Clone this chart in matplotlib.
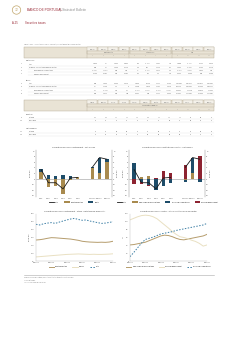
import matplotlib
matplotlib.use('Agg')
import matplotlib.pyplot as plt
from matplotlib.patches import Rectangle, Circle
import numpy as np
import pandas as pd

W, H = 250, 353

GOLD = '#a88a4e'
BLUE = '#1d4c69'
RED = '#8d2331'
LINE = '#1a1a1a'
LBLUE = '#3f80a6'
TAN = '#b59c6c'
CREAM = '#e9e0c2'
TXT = '#555555'
BAND = '#e9e3d5'
EDGE = '#b3a994'
HEADRED = '#9a2a36'

# ---- net issues (top charts), EUR bn ----
years = ['2011', '2012', '2013', '2014', '2015', '2016']
months = ['Jan-17', 'Feb-17', 'Mar-17']
debt_net = [2.7, -2.9, -2.6, -5.3, -0.5, 0.8, 3.9, 2.3, 6.2]
equity_net = [0.9, 1.5, 1.0, 1.5, 1.0, 0.1, 0.4, 5.4, 0.9]
total_net = [3.4, -1.3, -1.3, -3.5, 0.4, 0.6, 4.2, 7.7, 7.1]
nfc_net = [0.0, 0.6, 1.0, -0.1, 0.0, 0.0, -0.4, 2.0, 0.0]
fc_net = [5.6, -1.2, -2.0, -3.9, -2.6, -1.5, -0.6, 5.7, -1.0]
gg_net = [-1.8, -0.7, -0.6, 0.5, 2.8, 2.3, 5.2, 0.0, 8.1]
net_ticks = [-6, -4, -2, 0, 2, 4, 6, 8, 10]

# ---- stocks (bottom charts), quarterly Mar-12 .. Mar-17 ----
stock_total = [284, 280, 288, 292, 295, 290, 298, 305, 312, 318, 322, 315,
               310, 312, 305, 300, 295, 290, 292, 296, 301]
stock_debt = [184, 186, 190, 195, 199, 198, 196, 194, 192, 190, 186, 182,
              176, 173, 171, 170, 169, 170, 169, 171, 176]
stock_shares = [76, 78, 80, 82, 84, 86, 88, 90, 92, 93, 94, 95,
                94, 93, 92, 93, 92, 92, 93, 94, 96]
share_nfc = [41, 42, 44, 46, 48, 52, 56, 60, 64, 66, 65, 62,
             58, 55, 54, 56, 58, 60, 62, 64, 68]
share_gg = [105, 109, 113, 116, 117, 116, 113, 108, 100, 92, 84, 75,
            68, 62, 60, 57, 53, 50, 45, 38, 41]
share_fc = [11, 22, 34, 46, 55, 58, 61, 65, 69, 71, 73, 75,
            78, 80, 82, 84, 86, 88, 90, 92, 96]
stock_dates = pd.date_range('2012-03-31', '2017-03-31', freq='QE')
stock_labels = ['Mar-12', 'Mar-13', 'Mar-14', 'Mar-15', 'Mar-16', 'Mar-17']

# ---- table A.25.1 ----
t1_dates = ['Dec 15', 'Dec 16', 'Feb 17', 'Mar 17'] * 3
t1_groups = ['Debt securities', 'Listed shares', 'Total']
t1_rows = ['Total', 'of which: resident non-financial sector',
           'Non-financial corporations', 'General government']
t1_net = [
    ['1 805', '-63', '1 934', '3 864', '83', '-1 133', '1 207', '78', '1 888', '-1 196', '3 141', '3 942'],
    ['952', '-41', '1 020', '2 115', '52', '-987', '1 114', '61', '1 004', '-1 028', '2 134', '2 176'],
    ['-1 208', '-3 222', '563', '-366', '-12', '-1 402', '1 271', '43', '-1 220', '-4 624', '1 834', '-323'],
    ['2 160', '3 181', '457', '2 481', '64', '415', '-157', '18', '2 224', '3 596', '300', '2 499'],
]
t1_stock = [
    ['306', '7 905', '5 002', '4 012', '1 866', '8 140', '1 117', '5 102', '102 006', '285 011', '134 812', '286 022'],
    ['-76', '1 736', '746', '9', '1 208', '1 846', '1 101', '4 019', '80 112', '206 024', '91 332', '208 140'],
    ['-95', '-1 064', '-205', '-46', '-1 210', '-3 106', '-1 203', '-4 108', '23 001', '17 118', '23 810', '17 504'],
    ['205', '1 011', '951', '188', '2 201', '981', '1 117', '2 005', '57 061', '111 026', '57 902', '111 380'],
]
t2_dates = ['Apr 16', 'May 16', 'Jun 16', 'Jul 16', 'Aug 16', 'Sep 16',
            'Oct 16', 'Nov 16', 'Dec 16', 'Jan 17', 'Feb 17', 'Mar 17']
t2_sections = ['Debt (1)', 'Listed shares']
t2_rows = ['Portugal', 'Euro area']
t2_vals = [
    ['-0.6', '-1.0', '-0.7', '-0.7', '-0.4', '-0.8', '-0.7', '-0.4', '-0.1', '0.8', '1.0', '2.0'],
    ['0.6', '0.6', '0.6', '0.6', '0.5', '0.5', '0.6', '0.4', '0.3', '0.7', '0.8', '0.9'],
    ['0.3', '0.6', '0.4', '0.1', '0.2', '0.5', '0.1', '0.6', '0.6', '0.8', '0.7', '0.8'],
    ['0.9', '0.8', '0.8', '0.6', '0.6', '0.7', '0.7', '0.7', '0.7', '0.6', '0.5', '0.6'],
]

plt.rcParams['font.family'] = ['Liberation Sans', 'DejaVu Sans']

fig = plt.figure(figsize=(W / 100, H / 100), dpi=100)
fig.patch.set_facecolor('white')

bg = fig.add_axes([0, 0, 1, 1])
bg.set_xlim(0, W)
bg.set_ylim(H, 0)
bg.axis('off')


def txt(x, y, s, fs=1.5, color=TXT, ha='left', **kw):
    bg.text(x, y, s, fontsize=fs, color=color, ha=ha, va='center', **kw)


# page header
bg.add_patch(Circle((16.5, 10), 4.2, fill=False, ec='#c2a66b', lw=0.5))
txt(16.5, 10, '72', fs=2.4, color='#b89a5c', ha='center')
txt(27, 10, 'BANCO DE PORTUGAL', fs=2.3, color=HEADRED)
txt(60.5, 10, '|  Statistical Bulletin', fs=2.1, color='#8a8a8a')
txt(12.5, 23.2, 'A.25', fs=2.0, color=HEADRED)
txt(25, 23.2, 'Securities issues', fs=2.0, color=HEADRED)

X0, X1, XC = 24, 214, 87
CW = (X1 - XC) / 12


def header(y0, dates, groups):
    bg.add_patch(Rectangle((X0, y0), X1 - X0, 11, fc=BAND, ec=EDGE, lw=0.3))
    for i, d in enumerate(dates):
        cx = XC + i * CW
        bg.add_patch(Rectangle((cx + 0.3, y0 + 0.4), CW - 0.6, 3.4, fc='#f4f1ea', ec=EDGE, lw=0.25))
        txt(cx + CW / 2, y0 + 2.1, d, fs=1.0, ha='center')
        txt(cx + CW / 2, y0 + 9.0, str(i + 1), fs=0.9, color='#9a9a9a', ha='center')
    span = 12 // len(groups)
    for g, name in enumerate(groups):
        gx = XC + g * span * CW
        bg.add_patch(Rectangle((gx + 0.3, y0 + 4.2), span * CW - 0.6, 3.0, fc=BAND, ec=EDGE, lw=0.25))
        txt(gx + span * CW / 2, y0 + 5.7, name, fs=1.0, ha='center')
        bg.plot([gx, gx], [y0 + 4.2, y0 + 11], color=EDGE, lw=0.25)


def data_row(y, num, label, vals, indent=0):
    txt(22, y, str(num), fs=1.1, ha='right')
    txt(29 + indent, y, label, fs=1.2)
    bg.plot([28, X1], [y + 1.5, y + 1.5], color='#d6d6d6', lw=0.2)
    for i, v in enumerate(vals):
        txt(XC + (i + 1) * CW - 1, y, v, fs=1.1, ha='right')


# table 1
txt(24, 44, 'Table A.25.1 - Securities issued by residents, by instrument and issuer sector', fs=1.2, color='#777777')
header(47, t1_dates, t1_groups)
txt(26, 60.8, 'Net issues', fs=1.3, color='#333333')
for k, (lab, vals) in enumerate(zip(t1_rows, t1_net)):
    data_row(64 + k * 3.3, k + 1, lab, vals, indent=0 if k < 2 else 5)
txt(26, 80, 'Stocks', fs=1.3, color='#333333')
for k, (lab, vals) in enumerate(zip(t1_rows, t1_stock)):
    data_row(83.5 + k * 3.3, k + 5, lab, vals, indent=0 if k < 2 else 5)

# table 2
header(100, t2_dates, ['Annual rate of change (%)'])
for s, sec in enumerate(t2_sections):
    ys = 114 + s * 14
    txt(26, ys, sec, fs=1.3, color='#333333')
    for k, lab in enumerate(t2_rows):
        data_row(ys + 3.3 + k * 3.5, 9 + s * 2 + k, lab, t2_vals[s * 2 + k])


def add_axes_px(x0, y0, x1, y1):
    return fig.add_axes([x0 / W, 1 - y1 / H, (x1 - x0) / W, (y1 - y0) / H])


def stack_bars(ax, x, series, colors, labels, width=0.48):
    pos = np.zeros(len(x))
    neg = np.zeros(len(x))
    for vals, c, lab in zip(series, colors, labels):
        v = np.array(vals, dtype=float)
        ax.bar(x, v, width, bottom=np.where(v >= 0, pos, neg), color=c, label=lab, lw=0)
        pos += np.clip(v, 0, None)
        neg += np.clip(v, None, 0)


def style(ax, ylabel):
    for side in ['top', 'bottom']:
        ax.spines[side].set_visible(False)
    for side in ['left', 'right']:
        ax.spines[side].set_color('#bbbbbb')
        ax.spines[side].set_linewidth(0.3)
    ax.tick_params(labelsize=1.5, length=0, pad=1, colors=TXT)
    ax.set_ylabel(ylabel, fontsize=1.5, color=TXT, labelpad=1)


x_cat = np.array(list(range(len(years))) + [len(years) + 1 + i for i in range(len(months))])
cats = years + months

for x0, title, series, colors, labels in [
        (36, 'Securities issues by instrument - net issues',
         [debt_net, equity_net], [GOLD, BLUE], ['Debt securities', 'Equity']),
        (129, 'Securities issues by institutional sector - net issues',
         [nfc_net, fc_net, gg_net], [GOLD, BLUE, RED],
         ['Non-financial corporations', 'Financial corporations', 'General government'])]:
    ax = add_axes_px(x0, 150, x0 + 76, 197)
    stack_bars(ax, x_cat, series, colors, labels)
    ax.plot(x_cat[:6], total_net[:6], color=LINE, lw=0.6, label='Total')
    ax.plot(x_cat[6:], total_net[6:], color=LINE, lw=0.6)
    ax.axhline(0, color='#9a9a9a', lw=0.4, zorder=0)
    ax.set_xlim(-0.7, 9.7)
    ax.set_ylim(-6.4, 10.4)
    ax.set_yticks(net_ticks)
    ax.set_xticks(x_cat, cats)
    style(ax, 'EUR bn')
    ax2 = ax.twinx()
    ax2.set_ylim(ax.get_ylim())
    ax2.set_yticks(net_ticks)
    style(ax2, 'EUR bn')
    ax.set_title(title, fontsize=1.6, color='#444444', pad=1.5)
    ax.legend(loc='upper center', bbox_to_anchor=(0.5, -0.08), ncol=len(labels) + 1,
              fontsize=1.3, frameon=False, handlelength=3, handleheight=0.7,
              columnspacing=3, borderaxespad=0, handletextpad=0.6)

for x0, title, series, colors, styles, labels, ylim, ticks, ylab in [
        (36, 'Securities issues by instrument - stock (outstanding amounts)',
         [stock_debt, stock_shares, stock_total], [TAN, CREAM, LBLUE],
         ['-', '-', (0, (1.5, 1.5))], ['Debt securities', 'Shares', 'Total'],
         (50, 350), range(50, 351, 50), 'EUR bn'),
        (130, 'Securities issues by sector - stock (outstanding amounts)',
         [share_nfc, share_gg, share_fc], [TAN, CREAM, LBLUE],
         ['-', '-', (0, (1.5, 1.5))],
         ['Non-financial corporations', 'General government', 'Financial corporations'],
         (0, 120), range(0, 121, 20), '%')]:
    ax = add_axes_px(x0, 214, x0 + 77, 261)
    for vals, c, ls, lab in zip(series, colors, styles, labels):
        ax.plot(stock_dates, vals, color=c, ls=ls, lw=0.7, label=lab)
    ax.set_ylim(*ylim)
    ax.set_yticks(list(ticks))
    ax.set_xlim(stock_dates[0], stock_dates[-1])
    ax.set_xticks(stock_dates[::4], stock_labels)
    style(ax, ylab)
    ax.spines['right'].set_visible(False)
    ax.spines['bottom'].set_visible(True)
    ax.spines['bottom'].set_color('#bbbbbb')
    ax.spines['bottom'].set_linewidth(0.3)
    ax.set_title(title, fontsize=1.6, color='#444444', pad=1.5)
    ax.legend(loc='upper center', bbox_to_anchor=(0.5, -0.09), ncol=3,
              fontsize=1.3, frameon=False, handlelength=3, columnspacing=3,
              borderaxespad=0, handletextpad=0.6)

# footnotes
bg.plot([24, X1], [275, 275], color='#aaaaaa', lw=0.4)
txt(24, 277.6, 'Source: Banco de Portugal, Securities Statistics Integrated System (SIET).', fs=1.1, color='#777777')
txt(24, 280.1, '(1) Market value.', fs=1.1, color='#777777')
txt(24, 282.6, '(2) Includes financial auxiliaries.', fs=1.1, color='#777777')

fig.savefig('out.png', dpi=100)
